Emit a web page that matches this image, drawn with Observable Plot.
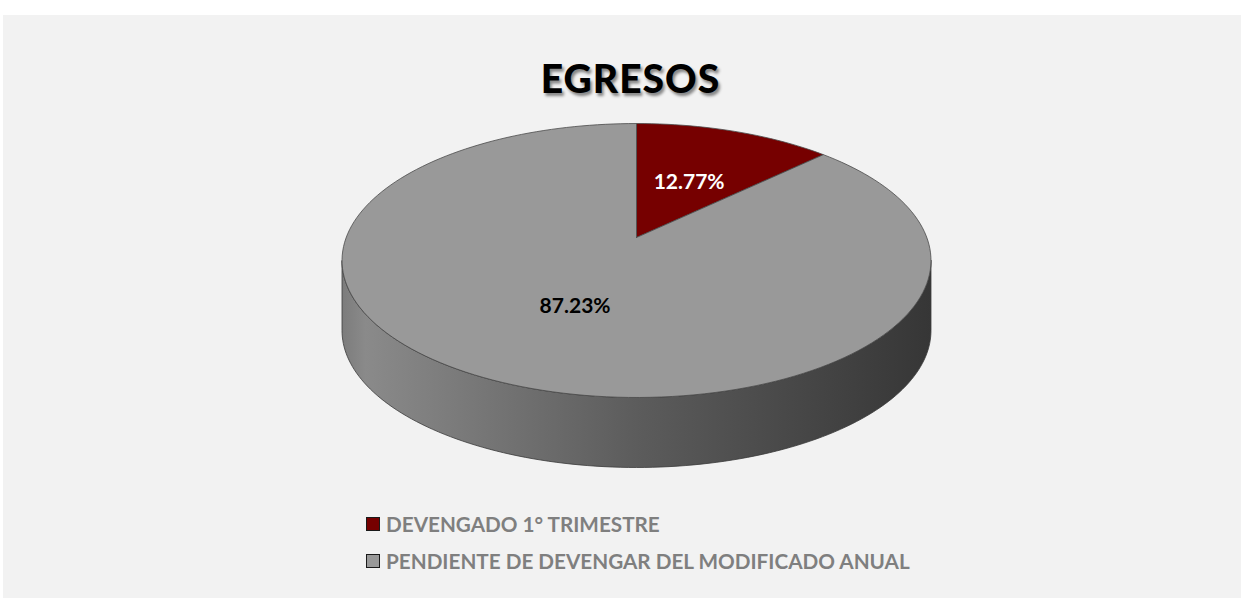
<!DOCTYPE html>
<html><head><meta charset="utf-8">
<script src="https://cdn.jsdelivr.net/npm/d3@7"></script>
<script src="https://cdn.jsdelivr.net/npm/@observablehq/plot@0.6"></script>
<style>
html,body{margin:0;padding:0;background:#fff;overflow:hidden;}
#wrap{position:relative;width:1241px;height:598px;}
#panel{position:absolute;left:3px;top:15px;width:1238px;height:583px;background:#f2f2f2;}
#title{position:absolute;left:0;top:58px;width:1261px;text-align:center;font-family:Lato,"Open Sans",sans-serif;font-weight:900;font-size:39px;line-height:40px;letter-spacing:1px;color:#000;text-shadow:2px 3px 3px rgba(0,0,0,0.45);}
#chart{position:absolute;left:0;top:0;}
.row{position:absolute;left:366px;display:flex;align-items:center;height:22px;font-family:Lato,"Open Sans",sans-serif;font-weight:700;font-size:20.7px;color:#7f7f7f;white-space:nowrap;}
.sw{width:12px;height:12px;border:1.5px solid #1a1a1a;margin-right:6px;box-sizing:content-box;}
</style>
</head><body>
<div id="wrap">
  <div id="panel"></div>
  <div id="chart"></div>
  <div id="title">EGRESOS</div>
  <div id="legend"></div>
</div>
<script>
// ---- data ----
const titleText = "EGRESOS";
const categories = ["DEVENGADO 1° TRIMESTRE", "PENDIENTE DE DEVENGAR DEL MODIFICADO ANUAL"];
const shares = [12.77, 87.23];
const labels = ["12.77%", "87.23%"];
const sliceColors = ["#760000", "#999999"];
const labelColors = ["#ffffff", "#000000"];

// ---- geometry (layout) ----
const W = 1241, H = 500;
const CX = 636, CY = 237, A = 290.3, B = 133.1, K = 0.168, DEPTH = 70;
function proj(r, phi, dz = 0) {
  const u = r * Math.sin(phi), v = -r * Math.cos(phi);
  const d = 1 - K * v;
  return {x: CX + A * u / d, y: CY + B * v / d + dz};
}
function arc(a0, a1, dz = 0, n = 120) {
  const pts = [];
  for (let i = 0; i <= n; i++) pts.push(proj(1, a0 + (a1 - a0) * i / n, dz));
  return pts;
}
const total = d3.sum(shares);
let acc = 0;
const slices = shares.map((s, i) => {
  const a0 = acc / total * 2 * Math.PI; acc += s;
  const a1 = acc / total * 2 * Math.PI;
  const c = proj(0, 0);
  const pts = [c, ...arc(a0, a1, 0, Math.max(8, Math.round(200 * s / total))), c];
  const mid = (a0 + a1) / 2;
  const lp = proj(0.5, mid);
  return {pts, color: sliceColors[i], label: {x: lp.x, y: lp.y + 2, text: labels[i], color: labelColors[i]}};
});
// front side (visible) between silhouette extremes
const aR = Math.acos(-K), aL = 2 * Math.PI - aR;
const sidePts = [...arc(aR, aL, 0), ...arc(aR, aL, DEPTH).reverse()];
sidePts.push(sidePts[0]);
const shadowPts = arc(0, 2 * Math.PI, DEPTH + 6);

const marks = [
  Plot.line(shadowPts, {x: "x", y: "y", fill: "#000", fillOpacity: 0.35, stroke: "none", ariaLabel: "shadow"}),
  Plot.line(sidePts, {x: "x", y: "y", fill: "url(#sideGrad)", stroke: "#3a3a3a", strokeWidth: 0.8}),
  ...slices.map(s => Plot.line(s.pts, {x: "x", y: "y", fill: s.color, stroke: "#4a4a4a", strokeWidth: 0.8})),
  ...slices.map(s => Plot.text([s.label], {x: "x", y: "y", text: "text", fill: s.label.color, fontSize: 21, fontWeight: "bold"}))
];

const plot = Plot.plot({
  width: W, height: H, margin: 0,
  x: {domain: [0, W], range: [0, W], axis: null},
  y: {domain: [0, H], range: [0, H], axis: null},
  style: {background: "transparent", overflow: "visible", fontFamily: "Lato, 'Open Sans', sans-serif"},
  marks
});
const svg = d3.select(plot);
const defs = svg.insert("defs", ":first-child");
const g = defs.append("linearGradient").attr("id", "sideGrad").attr("x1", 0).attr("y1", 0).attr("x2", 1).attr("y2", 0);
[[0, "#7c7c7c"], [0.04, "#8a8a8a"], [0.5, "#5c5c5c"], [1, "#363636"]].forEach(([o, c]) => g.append("stop").attr("offset", o).attr("stop-color", c));
defs.append("filter").attr("id", "blurF").attr("x", "-20%").attr("y", "-20%").attr("width", "140%").attr("height", "140%")
  .append("feGaussianBlur").attr("stdDeviation", 5);
svg.select('g[aria-label="shadow"]').attr("filter", "url(#blurF)");
document.getElementById("chart").appendChild(plot);

document.getElementById("title").textContent = titleText;
const legend = document.getElementById("legend");
categories.forEach((c, i) => {
  const row = document.createElement("div");
  row.className = "row";
  row.style.top = (513 + i * 37) + "px";
  const sw = document.createElement("div");
  sw.className = "sw"; sw.style.background = sliceColors[i];
  const t = document.createElement("span"); t.textContent = c;
  row.appendChild(sw); row.appendChild(t);
  legend.appendChild(row);
});
</script>
</body></html>
